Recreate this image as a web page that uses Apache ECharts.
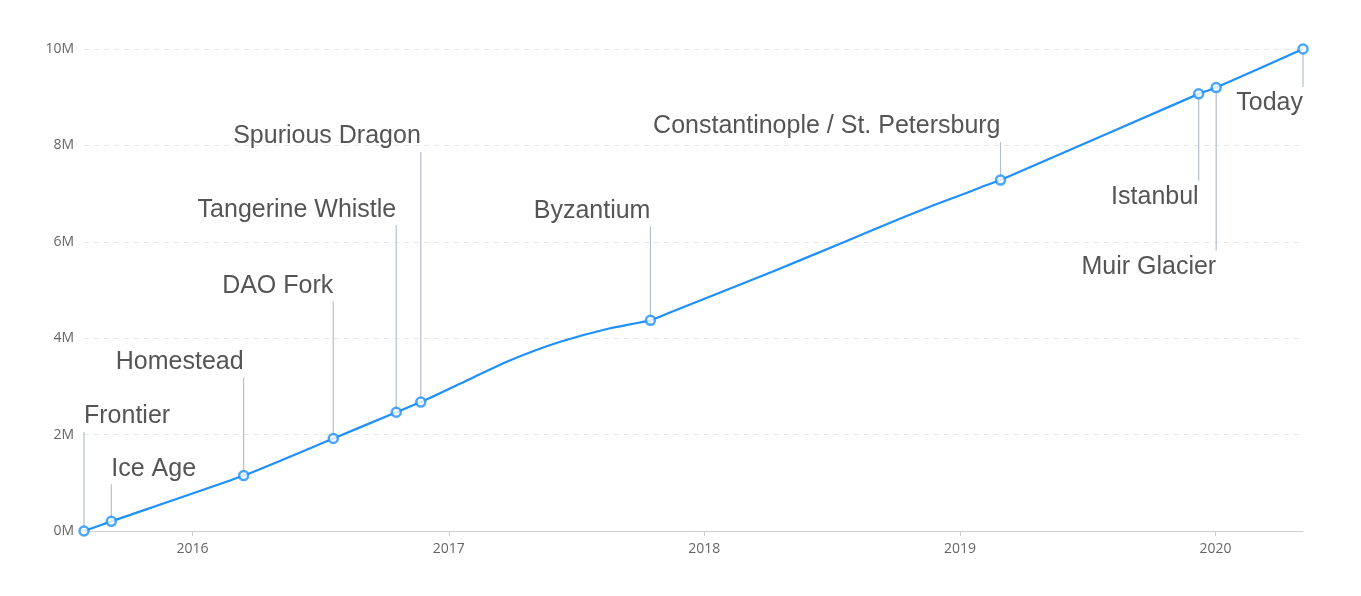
<!DOCTYPE html>
<html>
<head>
<meta charset="utf-8">
<script src="https://cdn.jsdelivr.net/npm/echarts@6/dist/echarts.min.js"></script>
<style>
html,body{margin:0;padding:0;background:#fff;}
#chart{width:1361px;height:596px;}
</style>
</head>
<body>
<div id="chart"></div>
<script>
// Fork data
const forkNames = ['Frontier','Ice Age','Homestead','DAO Fork','Tangerine Whistle','Spurious Dragon','Byzantium','Constantinople / St. Petersburg','Istanbul','Muir Glacier','Today'];
const forkDates = ['2015-07-30','2015-09-07','2016-03-14','2016-07-20','2016-10-18','2016-11-22','2017-10-16','2019-02-28','2019-12-08','2020-01-02','2020-05-05'];
const forkBlocks = [0,200000,1150000,1920000,2463000,2675000,4370000,7280000,9069000,9200000,10000000];

// Intermediate block heights (estimated)
const midDates = ['2017-01-16','2017-03-29','2017-06-08','2017-08-18','2017-09-23','2017-11-12','2018-01-03','2018-04-08','2018-07-13','2018-10-16','2018-11-28','2019-01-15','2019-02-08'];
const midBlocks = [3050000,3537000,3921000,4201000,4305000,4527000,4828000,5380000,5954000,6531000,6778000,7040000,7178000];

// Annotation layout (pixel leader lengths, direction, text alignment)
const labelLen = [99,37,98,137,187,250,94,38,87,163,38];
const labelDir = ['up','up','up','up','up','up','up','up','down','down','down'];
const labelAlign = ['left','left','right','right','right','right','right','right','right','right','right'];

const forkData = forkDates.map((d,i)=>[d, forkBlocks[i]]);
const curveData = forkData.concat(midDates.map((d,i)=>[d, midBlocks[i]]))
  .sort((a,b)=>new Date(a[0]) - new Date(b[0]));
const annoData = forkDates.map((d,i)=>[d, forkBlocks[i], i]);

const chart = echarts.init(document.getElementById('chart'));
chart.setOption({
  animation:false,
  grid:{left:84,right:58,top:49,bottom:65},
  xAxis:{
    type:'time',
    min:forkDates[0],
    max:forkDates[forkDates.length-1],
    minInterval:365*24*3600*1000,
    splitLine:{show:false},
    axisLine:{lineStyle:{color:'#ccc'}},
    axisTick:{show:true,length:5,lineStyle:{color:'#ccc'}},
    axisLabel:{
      color:'#666',fontSize:14,margin:11,
      fontFamily:'"Open Sans", "Liberation Sans", sans-serif',
      showMinLabel:false,showMaxLabel:false,
      formatter:function(v){return String(new Date(v).getFullYear());}
    }
  },
  yAxis:{
    type:'value',min:0,max:10000000,interval:2000000,
    axisLine:{show:false},axisTick:{show:false},
    splitLine:{lineStyle:{color:'#e6e6e6',type:[5,5]}},
    axisLabel:{
      color:'#666',fontSize:14,margin:10,
      fontFamily:'"Open Sans", "Liberation Sans", sans-serif',
      formatter:function(v){return (v/1000000)+'M';}
    }
  },
  series:[
    {
      type:'custom',
      z:1,
      silent:true,
      data:annoData,
      renderItem:function(params,api){
        const i = api.value(2);
        const p = api.coord([api.value(0), api.value(1)]);
        const up = labelDir[i]==='up';
        const y2 = up ? p[1]-labelLen[i] : p[1]+labelLen[i];
        return {
          type:'group',
          children:[
            {type:'line',shape:{x1:p[0],y1:p[1],x2:p[0],y2:y2},style:{stroke:'#b4bfcc',lineWidth:1.2}},
            {type:'text',style:{
              text:forkNames[i],
              x:p[0],
              y: up ? y2-3 : y2+4,
              align:labelAlign[i],
              verticalAlign: up ? 'bottom':'top',
              font:'25px "Liberation Sans", Arial, sans-serif',
              fill:'#555'
            }}
          ]
        };
      }
    },
    {
      type:'line',
      z:2,
      silent:true,
      data:curveData,
      smooth:0.2,
      showSymbol:false,
      lineStyle:{color:'#1e90ff',width:2.2}
    },
    {
      type:'scatter',
      z:3,
      data:forkData,
      symbol:'circle',
      symbolSize:9,
      itemStyle:{color:'#fff',borderWidth:2.5,borderColor:'#1e90ff'}
    }
  ]
});
</script>
</body>
</html>
